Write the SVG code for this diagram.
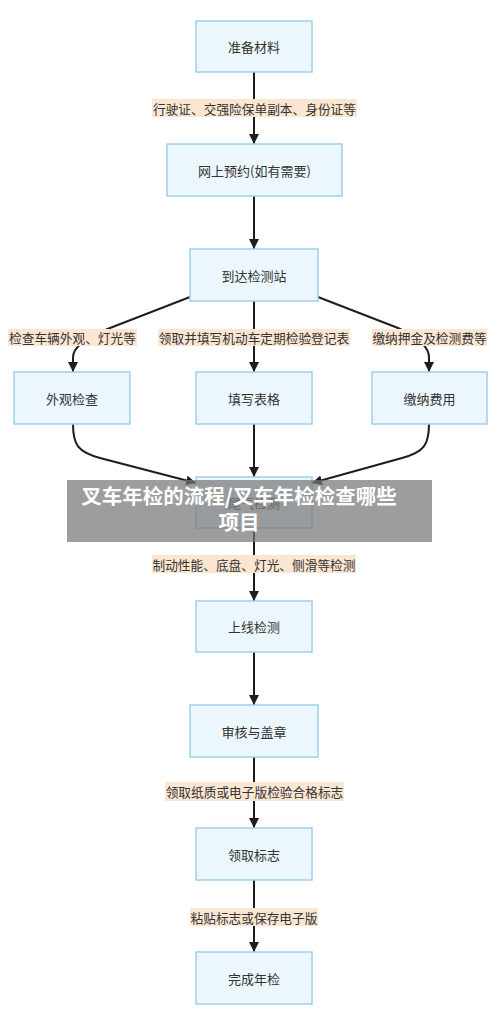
<svg xmlns="http://www.w3.org/2000/svg" width="500" height="1022" viewBox="0 0 500 1022">
<style>
.n rect{fill:#ECF6FD;stroke:#9FD0EC;stroke-width:1.5}
.n text{font-family:"Noto Sans CJK SC","Noto Sans",sans-serif;font-size:13px;fill:#333;text-anchor:middle;dominant-baseline:central}
.e path{fill:none;stroke:#1e1e1e;stroke-width:2}
.l rect{fill:#FBE6D2}
.l text{font-family:"Noto Sans CJK SC","Noto Sans",sans-serif;font-size:12.7px;fill:#333;text-anchor:middle;dominant-baseline:central}
.b text{font-family:"Noto Sans CJK SC","Noto Sans",sans-serif;font-size:20.5px;font-weight:bold;fill:#fff;text-anchor:middle}
</style>
<defs>
<marker id="ah" markerUnits="userSpaceOnUse" markerWidth="10" markerHeight="10" refX="10" refY="5" orient="auto">
<path d="M0,0 L10,5 L0,10 z" fill="#1e1e1e"/>
</marker>
</defs>
<rect width="500" height="1022" fill="#fff"/>
<g id="connectors" class="e">
<path d="M254,72 L254,144" marker-end="url(#ah)"/>
<path d="M254,196 L254,249" marker-end="url(#ah)"/>
<path d="M190,297 L110,328 Q72,343 73,358 L73,372" marker-end="url(#ah)"/>
<path d="M254,301 L254,372" marker-end="url(#ah)"/>
<path d="M318,297 L398,328 Q430,343 429,358 L429,372" marker-end="url(#ah)"/>
<path d="M73,424 C73,445 78,452 100,458 L196,483" marker-end="url(#ah)"/>
<path d="M254,424 L254,477" marker-end="url(#ah)"/>
<path d="M429,424 C429,445 424,452 402,458 L312,483" marker-end="url(#ah)"/>
<path d="M254,528 L254,601" marker-end="url(#ah)"/>
<path d="M254,652 L254,705" marker-end="url(#ah)"/>
<path d="M254,757 L254,828" marker-end="url(#ah)"/>
<path d="M254,880 L254,952" marker-end="url(#ah)"/>
</g>
<g id="labels" class="l">
<g><rect x="152" y="99" width="205" height="18"/><text x="254.5" y="108">行驶证、交强险保单副本、身份证等</text></g>
<g><rect x="8" y="329" width="129" height="17"/><text x="72.5" y="337.5">检查车辆外观、灯光等</text></g>
<g><rect x="158" y="329" width="192" height="17"/><text x="254" y="337.5">领取并填写机动车定期检验登记表</text></g>
<g><rect x="372" y="329" width="115" height="17"/><text x="429.5" y="337.5">缴纳押金及检测费等</text></g>
<g><rect x="152" y="555" width="204" height="18"/><text x="254" y="564">制动性能、底盘、灯光、侧滑等检测</text></g>
<g><rect x="165" y="782" width="179" height="19"/><text x="254.5" y="791.5">领取纸质或电子版检验合格标志</text></g>
<g><rect x="190" y="908" width="128" height="18"/><text x="254" y="917">粘贴标志或保存电子版</text></g>
</g>
<g id="n1" class="n"><rect x="196" y="21" width="116" height="51"/><text x="254" y="46.5">准备材料</text></g>
<g id="n2" class="n"><rect x="167" y="144" width="175" height="52"/><text x="254.5" y="170">网上预约(如有需要)</text></g>
<g id="n3" class="n"><rect x="190" y="249" width="128" height="52"/><text x="254" y="275">到达检测站</text></g>
<g id="n4" class="n"><rect x="14" y="372" width="116" height="52"/><text x="72" y="398">外观检查</text></g>
<g id="n5" class="n"><rect x="196" y="372" width="116" height="52"/><text x="254" y="398">填写表格</text></g>
<g id="n6" class="n"><rect x="372" y="372" width="115" height="52"/><text x="429.5" y="398">缴纳费用</text></g>
<g id="n7" class="n"><rect x="196" y="477" width="116" height="51"/><text x="254" y="502.5">尾气检测</text></g>
<g id="n8" class="n"><rect x="196" y="601" width="116" height="51"/><text x="254" y="626.5">上线检测</text></g>
<g id="n9" class="n"><rect x="190" y="705" width="128" height="52"/><text x="254" y="731">审核与盖章</text></g>
<g id="n10" class="n"><rect x="196" y="828" width="116" height="52"/><text x="254" y="854">领取标志</text></g>
<g id="n11" class="n"><rect x="196" y="952" width="116" height="52"/><text x="254" y="978">完成年检</text></g>
<g id="banner" class="b">
<rect x="67" y="480" width="365" height="62" fill="#777" fill-opacity="0.72"/>
<text x="239" y="504">叉车年检的流程/叉车年检检查哪些</text>
<text x="239" y="530">项目</text>
</g>
</svg>
